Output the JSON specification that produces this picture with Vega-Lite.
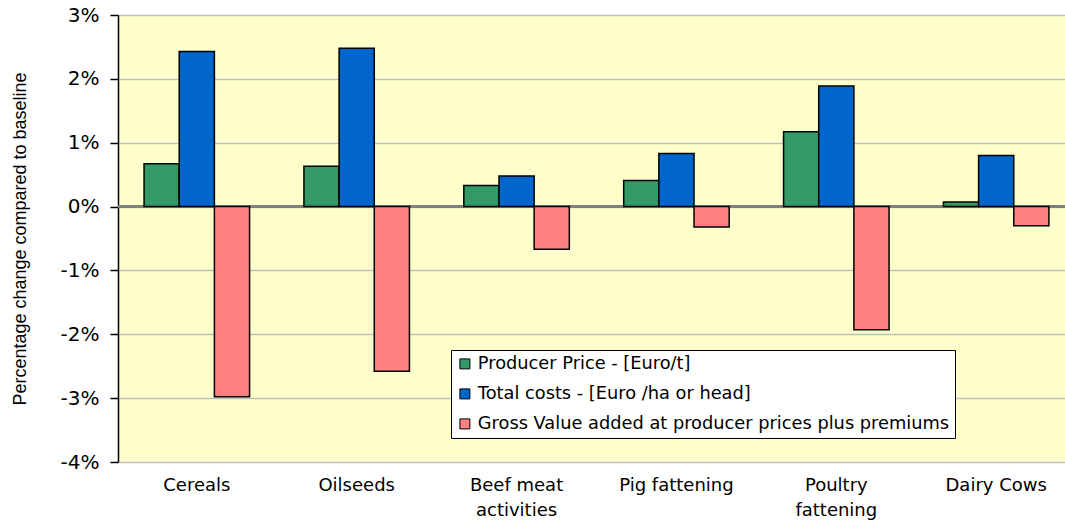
{
  "$schema": "https://vega.github.io/schema/vega-lite/v6.json",
  "autosize": "none",
  "padding": {"left": 118, "top": 15, "right": 0, "bottom": 60},
  "width": 947,
  "height": 447,
  "background": "white",
  "data": {
    "values": [
      {"cat": "Cereals", "series": "Producer Price - [Euro/t]", "value": 0.67},
      {"cat": "Cereals", "series": "Total costs - [Euro /ha or head]", "value": 2.43},
      {"cat": "Cereals", "series": "Gross Value added at producer prices plus premiums", "value": -2.98},
      {"cat": "Oilseeds", "series": "Producer Price - [Euro/t]", "value": 0.63},
      {"cat": "Oilseeds", "series": "Total costs - [Euro /ha or head]", "value": 2.48},
      {"cat": "Oilseeds", "series": "Gross Value added at producer prices plus premiums", "value": -2.58},
      {"cat": "Beef meat activities", "series": "Producer Price - [Euro/t]", "value": 0.33},
      {"cat": "Beef meat activities", "series": "Total costs - [Euro /ha or head]", "value": 0.48},
      {"cat": "Beef meat activities", "series": "Gross Value added at producer prices plus premiums", "value": -0.67},
      {"cat": "Pig fattening", "series": "Producer Price - [Euro/t]", "value": 0.41},
      {"cat": "Pig fattening", "series": "Total costs - [Euro /ha or head]", "value": 0.83},
      {"cat": "Pig fattening", "series": "Gross Value added at producer prices plus premiums", "value": -0.32},
      {"cat": "Poultry fattening", "series": "Producer Price - [Euro/t]", "value": 1.17},
      {"cat": "Poultry fattening", "series": "Total costs - [Euro /ha or head]", "value": 1.89},
      {"cat": "Poultry fattening", "series": "Gross Value added at producer prices plus premiums", "value": -1.93},
      {"cat": "Dairy Cows", "series": "Producer Price - [Euro/t]", "value": 0.07},
      {"cat": "Dairy Cows", "series": "Total costs - [Euro /ha or head]", "value": 0.80},
      {"cat": "Dairy Cows", "series": "Gross Value added at producer prices plus premiums", "value": -0.30}
    ]
  },
  "layer": [
    {
      "mark": {"type": "rule", "color": "#808080", "strokeWidth": 2},
      "encoding": {"y": {"datum": 0, "type": "quantitative"}}
    },
    {
      "mark": {"type": "bar", "stroke": "black", "strokeWidth": 1.5},
      "encoding": {
        "x": {
          "field": "cat",
          "type": "nominal",
          "sort": ["Cereals", "Oilseeds", "Beef meat activities", "Pig fattening", "Poultry fattening", "Dairy Cows"],
          "scale": {"paddingInner": 0.34, "paddingOuter": 0.163, "range": [0, 957]},
          "axis": {
            "title": null,
            "orient": "bottom",
            "domain": false,
            "ticks": false,
            "grid": false,
            "labelAngle": 0,
            "labelFont": "DejaVu Sans",
            "labelFontSize": 18,
            "labelColor": "black",
            "labelPadding": 14,
            "labelLineHeight": 25,
            "labelBaseline": "top",
            "labelExpr": "datum.value == 'Beef meat activities' ? ['Beef meat', 'activities'] : datum.value == 'Poultry fattening' ? ['Poultry', 'fattening'] : datum.value"
          }
        },
        "xOffset": {
          "field": "series",
          "type": "nominal",
          "sort": ["Producer Price - [Euro/t]", "Total costs - [Euro /ha or head]", "Gross Value added at producer prices plus premiums"],
          "scale": {"paddingInner": 0, "paddingOuter": 0}
        },
        "y": {
          "field": "value",
          "type": "quantitative",
          "scale": {"domain": [-4, 3], "nice": false},
          "axis": {
            "title": "Percentage change compared to baseline",
            "titleFont": "Liberation Sans",
            "titleFontSize": 18,
            "titleFontWeight": "normal",
            "titleColor": "black",
            "titlePadding": 31,
            "values": [-4, -3, -2, -1, 0, 1, 2, 3],
            "labelExpr": "datum.value + '%'",
            "labelFont": "DejaVu Sans",
            "labelFontSize": 20,
            "labelColor": "black",
            "labelPadding": 11,
            "tickSize": 8,
            "tickColor": "black",
            "tickWidth": 1.5,
            "domainColor": "black",
            "domainWidth": 1.5,
            "grid": true,
            "gridColor": "#c0c0c0",
            "gridWidth": 1.5
          }
        },
        "color": {
          "field": "series",
          "type": "nominal",
          "scale": {
            "domain": ["Producer Price - [Euro/t]", "Total costs - [Euro /ha or head]", "Gross Value added at producer prices plus premiums"],
            "range": ["#339966", "#0066CC", "#FF8080"]
          },
          "legend": {
            "title": null,
            "orient": "none",
            "legendX": 333,
            "legendY": 335,
            "fillColor": "white",
            "strokeColor": "black",
            "padding": 5,
            "symbolType": "square",
            "symbolSize": 100,
            "symbolStrokeColor": "black",
            "symbolStrokeWidth": 1,
            "labelFont": "DejaVu Sans",
            "labelFontSize": 17.8,
            "labelColor": "black",
            "labelLimit": 0,
            "labelOffset": 4,
            "rowPadding": 11
          }
        }
      }
    }
  ],
  "config": {
    "view": {"fill": "#FFFFCC", "stroke": null}
  }
}
